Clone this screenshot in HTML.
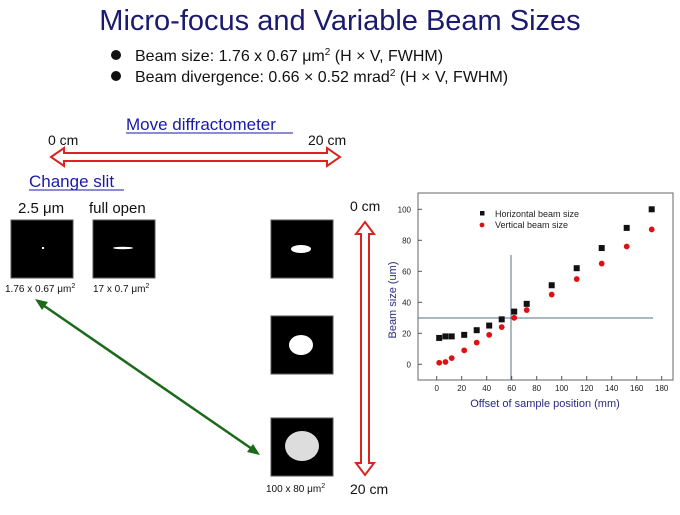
<!DOCTYPE html>
<html><head><meta charset="utf-8"><style>
body{margin:0;width:680px;height:510px;background:#fff;overflow:hidden;font-family:"Liberation Sans",sans-serif}
</style></head><body>
<svg id="s" width="680" height="510" xmlns="http://www.w3.org/2000/svg" font-family="Liberation Sans, sans-serif">
<text x="340" y="30" font-size="29" fill="#1a1a6e" text-anchor="middle">Micro-focus and Variable Beam Sizes</text>
<circle cx="116" cy="55" r="5" fill="#111"/>
<text x="135" y="61" font-size="16" fill="#111">Beam size: 1.76 x 0.67 μm<tspan font-size="10" dy="-6">2</tspan><tspan dy="6"> (H × V, FWHM)</tspan></text>
<circle cx="116" cy="76" r="5" fill="#111"/>
<text x="135" y="82" font-size="16" fill="#111">Beam divergence: 0.66 × 0.52 mrad<tspan font-size="10" dy="-6">2</tspan><tspan dy="6"> (H × V, FWHM)</tspan></text>
<text x="126" y="130" font-size="17" fill="#1a1aaa">Move diffractometer</text>
<line x1="126" y1="133" x2="293" y2="133" stroke="#1a1aaa"/>
<text x="48" y="145" font-size="14" fill="#111">0 cm</text>
<text x="308" y="145" font-size="14" fill="#111">20 cm</text>
<polygon points="51,157 64,148 64,153 327,153 327,148 340,157 327,166 327,161 64,161 64,166" fill="#fff" stroke="#d22" stroke-width="2"/>
<text x="29" y="187" font-size="17" fill="#1a1aaa">Change slit</text>
<line x1="29" y1="190" x2="124" y2="190" stroke="#1a1aaa"/>
<text x="18" y="213" font-size="15" fill="#111">2.5 μm</text>
<text x="89" y="213" font-size="15" fill="#111">full open</text>
<rect x="11" y="220" width="62" height="58" fill="#000" stroke="#555"/>
<rect x="42" y="247" width="2" height="2" fill="#fff"/>
<rect x="93" y="220" width="62" height="58" fill="#000" stroke="#555"/>
<ellipse cx="123" cy="248" rx="10" ry="1.2" fill="#fff"/>
<text x="5" y="292" font-size="10" fill="#111">1.76 x 0.67 μm<tspan font-size="7" dy="-4">2</tspan></text>
<text x="93" y="292" font-size="10" fill="#111">17 x 0.7 μm<tspan font-size="7" dy="-4">2</tspan></text>
<rect x="271" y="220" width="62" height="58" fill="#000" stroke="#555"/>
<ellipse cx="301" cy="249" rx="10" ry="4" fill="#fff"/>
<rect x="271" y="316" width="62" height="58" fill="#000" stroke="#555"/>
<ellipse cx="301" cy="345" rx="12" ry="10" fill="#fff"/>
<rect x="271" y="418" width="62" height="58" fill="#000" stroke="#555"/>
<ellipse cx="302" cy="446" rx="17" ry="15" fill="#ddd"/>
<text x="266" y="492" font-size="10" fill="#111">100  x 80 μm<tspan font-size="7" dy="-4">2</tspan></text>
<line x1="40" y1="303" x2="255" y2="451" stroke="#1a6a1a" stroke-width="2.5"/>
<polygon points="35,299 48,302 42,310" fill="#1a6a1a"/>
<polygon points="260,455 247,452 253,444" fill="#1a6a1a"/>
<text x="350" y="211" font-size="14" fill="#111">0 cm</text>
<text x="350" y="494" font-size="14" fill="#111">20 cm</text>
<polygon points="365,222 374,234 369,234 369,463 374,463 365,475 356,463 361,463 361,234 356,234" fill="#fff" stroke="#d22" stroke-width="2"/>
<g id="plot" font-size="8" fill="#222">
<rect x="418" y="193" width="255" height="187" fill="none" stroke="#666"/>
<text x="396" y="300" font-size="11" fill="#2a2a80" transform="rotate(-90 396 300)" text-anchor="middle">Beam size (um)</text>
<text x="545" y="407" font-size="11" fill="#2a2a80" text-anchor="middle">Offset of sample position (mm)</text>
<line x1="418" y1="318" x2="653" y2="318" stroke="#56708a"/>
<line x1="511" y1="255" x2="511" y2="380" stroke="#56708a"/>
<text x="495" y="217" font-size="9">Horizontal beam size</text>
<rect x="480" y="211" width="4.5" height="4.5" fill="#111"/>
<text x="495" y="228" font-size="9">Vertical beam size</text>
<circle cx="482" cy="225" r="2.4" fill="#d11"/>
</g>
</svg>
<script>
const g=document.getElementById('plot'),ns='http://www.w3.org/2000/svg';
const X=v=>436.7+v*1.25,Y=v=>364.3-v*1.55;
function el(t,a){const e=document.createElementNS(ns,t);for(const k in a)e.setAttribute(k,a[k]);g.appendChild(e);return e;}
for(let v=0;v<=180;v+=20){el('line',{x1:X(v),y1:380,x2:X(v),y2:376,stroke:'#555'});el('text',{x:X(v),y:391,'text-anchor':'middle','font-size':8}).textContent=v;}
for(let v=0;v<=100;v+=20){el('line',{x1:418,y1:Y(v),x2:422,y2:Y(v),stroke:'#555'});el('text',{x:411,y:Y(v)+3,'text-anchor':'end','font-size':8}).textContent=v;}
const H=[[2,17],[7,18],[12,18],[22,19],[32,22],[42,25],[52,29],[62,34],[72,39],[92,51],[112,62],[132,75],[152,88],[172,100]];
const V=[[2,1],[7,1.5],[12,4],[22,9],[32,14],[42,19],[52,24],[62,30],[72,35],[92,45],[112,55],[132,65],[152,76],[172,87]];
H.forEach(p=>el('rect',{x:X(p[0])-3,y:Y(p[1])-3,width:6,height:6,fill:'#111'}));
V.forEach(p=>el('circle',{cx:X(p[0]),cy:Y(p[1]),r:2.9,fill:'#d11'}));
</script>
</body></html>
